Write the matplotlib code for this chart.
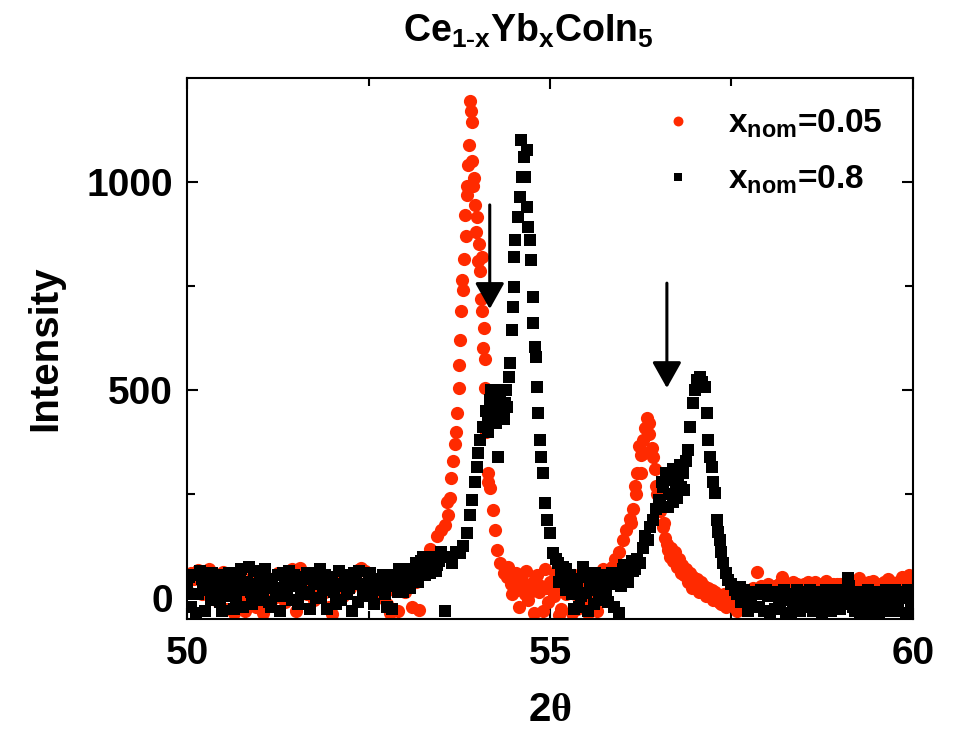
#!/usr/bin/env python
#
#  XRD patterns of Ce(1-x)Yb(x)CoIn5 around the (00l)/(h0l) peaks.
#

import matplotlib
matplotlib.use('Agg')
import matplotlib.pyplot as plt

# x_nom = 0.05 (red circles)
red_2theta = [
    50.00, 50.05, 50.10, 50.15, 50.20, 50.25, 50.30, 50.35, 50.40, 50.45,
    50.50, 50.55, 50.60, 50.65, 50.70, 50.75, 50.80, 50.85, 50.90, 50.95,
    51.00, 51.05, 51.10, 51.15, 51.20, 51.25, 51.30, 51.35, 51.40, 51.45,
    51.50, 51.55, 51.60, 51.65, 51.70, 51.75, 51.80, 51.85, 51.90, 51.95,
    52.00, 52.05, 52.10, 52.15, 52.20, 52.25, 52.30, 52.35, 52.40, 52.45,
    52.50, 52.55, 52.60, 52.65, 52.70, 52.75, 52.80, 52.85, 52.90, 52.95,
    53.00, 53.05, 53.10, 53.15, 53.20, 53.25, 53.30, 53.35, 53.40, 53.45,
    53.50, 53.55, 53.58, 53.62, 53.66, 53.69, 53.72, 53.74, 53.76, 53.78,
    53.79, 53.81, 53.83, 53.85, 53.86, 53.88, 53.90, 53.92, 53.93, 53.95,
    53.97, 53.99, 54.02, 54.04, 54.06, 54.07, 54.09, 54.10, 54.11, 54.14,
    54.17, 54.21, 54.24, 54.27, 54.31, 54.36, 54.41, 54.46, 54.50, 54.55,
    54.60, 54.65, 54.70, 54.75, 54.80, 54.85, 54.90, 54.95, 55.00, 55.05,
    55.10, 55.15, 55.20, 55.25, 55.30, 55.35, 55.40, 55.45, 55.50, 55.55,
    55.60, 55.65, 55.70, 55.75, 55.80, 55.85, 55.90, 55.95, 56.00, 56.05,
    56.10, 56.14, 56.17, 56.20, 56.22, 56.25, 56.28, 56.31, 56.34, 56.37,
    56.40, 56.44, 56.48, 56.52, 56.55, 56.59, 56.63, 56.67, 56.70, 56.75,
    56.80, 56.85, 56.90, 56.95, 57.00, 57.05, 57.10, 57.15, 57.20, 57.25,
    57.30, 57.35, 57.40, 57.45, 57.50, 57.55, 57.60, 57.65, 57.70, 57.75,
    57.80, 57.85, 57.90, 57.95, 58.00, 58.05, 58.10, 58.15, 58.20, 58.25,
    58.30, 58.35, 58.40, 58.45, 58.50, 58.55, 58.60, 58.65, 58.70, 58.75,
    58.80, 58.85, 58.90, 58.95, 59.00, 59.05, 59.10, 59.15, 59.20, 59.25,
    59.30, 59.35, 59.40, 59.45, 59.50, 59.55, 59.60, 59.65, 59.70, 59.75,
    59.80, 59.85, 59.90, 59.95, 60.00,
]
red_counts = [
    20, 60, 45, 68, 10, 55, 70, 30, -5, 40,
    62, -25, 15, -35, 35, 5, -30, 25, 50, -20,
    10, -35, 30, 45, 0, 60, 20, -10, 40, 70,
    -30, 72, 25, 10, 45, -5, 30, 55, 15, -20,
    -38, 20, 40, 5, 50, 25, 60, 68, 72, 66,
    58, 30, 10, 45, 0, -15, -35, 20, -30, 35,
    15, 50, -20, 40, -28, 75, 95, 118, 110, 150,
    165, 175, 230, 240, 330, 370, 445, 505, 620, 690,
    765, 815, 920, 970, 990, 1090, 1195, 1145, 1050, 1010,
    945, 915, 850, 785, 820, 690, 650, 575, 505, 300,
    265, 212, 165, 115, 85, 60, 50, 35, 45, 20,
    55, 10, -5, 30, 45, 15, -30, 25, 40, 5,
    30, -25, 20, 50, -35, 10, 35, -20, 15, 0,
    30, -30, 20, 45, 55, 75, 95, 110, 140, 165,
    190, 215, 270, 300, 365, 345, 380, 410, 433, 395,
    360, 310, 250, 210, 170, 145, 115, 120, 90, 75,
    60, 55, 40, 25, 35, 15, 20, 5, 10, -5,
    0, -15, 10, -10, 5, -20, 0, 15, 20, 10,
    25, 62, 30, 28, 35, 25, 30, 35, 50, 30,
    28, 38, 33, 30, 35, 40, 32, 38, 30, 35,
    42, 30, 35, 33, 35, 30, 28, 32, 40, 48,
    35, 30, 38, 42, 35, 30, 38, 45, 40, 35,
    40, 50, 45, 55, 40,
]
# extra red points: peak clusters and the noisy stretches between the peaks
red_fill_2theta = [
    53.60, 53.64, 53.70, 53.75, 53.80, 53.84, 53.87, 53.91, 53.94, 53.98,
    54.01, 54.05, 54.08, 54.12, 54.15,
    54.425, 54.475, 54.525, 54.575, 54.625, 54.675, 54.725, 54.775, 54.825,
    54.875, 54.925, 54.975, 55.025, 55.075, 55.125, 55.175, 55.225, 55.275,
    55.325, 55.375, 55.425, 55.475, 55.525, 55.575, 55.625, 55.675, 55.725,
    56.12, 56.19, 56.26, 56.30, 56.36, 56.42, 56.46, 56.50, 56.57, 56.61,
    56.65,
    56.725, 56.775, 56.825, 56.875, 56.925, 56.975, 57.025, 57.075, 57.125,
    57.175, 57.225, 57.275, 57.325, 57.375, 57.425, 57.475, 57.525, 57.575,
    57.625,
]
red_fill_counts = [
    200, 290, 400, 560, 740, 870, 1040, 1170, 990, 880,
    810, 720, 600, 400, 280,
    75, 10, 60, -20, 40, 65, 15, -35, 55,
    30, 70, -10, 20, 60, -40, 45, 10, 30,
    55, -25, 20, 40, -35, 25, 50, 10, 70,
    180, 250, 300, 350, 420, 340, 270, 230, 180, 130,
    100,
    110, 95, 80, 70, 60, 50, 45, 40, 30,
    25, 20, 15, -10, 5, -20, -15, 0, -30,
    5,
]

# x_nom = 0.8 (black squares)
black_2theta = [
    50.00, 50.05, 50.10, 50.15, 50.20, 50.25, 50.30, 50.35, 50.40, 50.45,
    50.50, 50.55, 50.60, 50.65, 50.70, 50.75, 50.80, 50.85, 50.90, 50.95,
    51.00, 51.05, 51.10, 51.15, 51.20, 51.25, 51.30, 51.35, 51.40, 51.45,
    51.50, 51.55, 51.60, 51.65, 51.70, 51.75, 51.80, 51.85, 51.90, 51.95,
    52.00, 52.05, 52.10, 52.15, 52.20, 52.25, 52.30, 52.35, 52.40, 52.45,
    52.50, 52.55, 52.60, 52.65, 52.70, 52.75, 52.80, 52.85, 52.90, 52.95,
    53.00, 53.05, 53.10, 53.15, 53.20, 53.25, 53.30, 53.35, 53.40, 53.45,
    53.50, 53.55, 53.60, 53.65, 53.70, 53.76, 53.80, 53.86, 53.90, 53.93,
    53.96, 53.99, 54.01, 54.04, 54.08, 54.12, 54.15, 54.17, 54.20, 54.23,
    54.26, 54.28, 54.31, 54.35, 54.38, 54.41, 54.43, 54.45, 54.47, 54.49,
    54.50, 54.51, 54.52, 54.56, 54.58, 54.60, 54.62, 54.64, 54.66, 54.68,
    54.69, 54.70, 54.72, 54.74, 54.76, 54.77, 54.79, 54.81, 54.82, 54.84,
    54.86, 54.88, 54.90, 54.93, 54.96, 55.00, 55.04, 55.08, 55.11, 55.15,
    55.18, 55.22, 55.26, 55.30, 55.35, 55.40, 55.45, 55.50, 55.55, 55.60,
    55.65, 55.70, 55.75, 55.80, 55.85, 55.90, 55.95, 56.00, 56.05, 56.10,
    56.15, 56.20, 56.24, 56.28, 56.31, 56.35, 56.38, 56.42, 56.46, 56.50,
    56.52, 56.56, 56.60, 56.64, 56.67, 56.70, 56.73, 56.77, 56.80, 56.83,
    56.87, 56.90, 56.93, 56.97, 57.00, 57.02, 57.05, 57.07, 57.10, 57.13,
    57.16, 57.18, 57.21, 57.23, 57.25, 57.27, 57.30, 57.32, 57.34, 57.36,
    57.38, 57.42, 57.45, 57.50, 57.55, 57.62, 57.70, 57.75, 57.80, 57.85,
    57.90, 57.95, 58.00, 58.05, 58.10, 58.15, 58.20, 58.25, 58.30, 58.35,
    58.40, 58.45, 58.50, 58.55, 58.60, 58.65, 58.70, 58.75, 58.80, 58.85,
    58.90, 58.95, 59.00, 59.05, 59.10, 59.15, 59.20, 59.25, 59.30, 59.35,
    59.40, 59.45, 59.50, 59.55, 59.60, 59.65, 59.70, 59.75, 59.80, 59.85,
    59.90, 59.95, 60.00,
]
black_counts = [
    30, -20, 55, 10, 45, -30, 25, 60, 15, -10,
    40, 5, 50, -25, 30, 70, 20, 75, -15, 35,
    60, 10, 45, -20, 25, 55, 5, 40, 65, -5,
    30, 50, 15, 60, -25, 35, 45, 0, 55, 20,
    40, -15, 65, 30, 10, 50, 60, -10, 35, 20,
    45, 5, 40, 25, 55, -20, 30, 50, 15, 60,
    35, 70, 45, 85, 55, 100, 75, 60, 95, 80,
    110, -30, 100, 85, 110, 108, 125, 156, 200, 236,
    280, 315, 349, 380, 411, 450, 400, 476, 430, 490,
    460, 339, 483, 500, 470, 459, 531, 565, 644, 700,
    748, 820, 861, 916, 964, 1101, 1012, 1060, 1012, 1077,
    940, 892, 861, 813, 724, 661, 603, 579, 507, 445,
    380, 340, 300, 228, 188, 156, 108, 95, 84, 65,
    50, 70, 35, 10, 45, -20, 75, 12, 40, -15,
    30, 55, 20, -10, 60, 36, -36, 70, 50, 75,
    65, 95, 84, 120, 150, 139, 170, 188, 215, 236,
    236, 267, 300, 250, 284, 230, 267, 290, 267, 300,
    330, 356, 411, 469, 500, 524, 515, 531, 520, 507,
    445, 380, 340, 315, 280, 252, 188, 160, 139, 110,
    84, 60, 43, 35, 20, 26, 5, 15, -20, 10,
    19, -30, 5, 15, -25, 0, 2, -35, 10, -15,
    20, -30, 5, 15, -20, 0, 10, -35, 20, -10,
    5, 15, -25, 20, 48, 5, -30, 10, -15, 15,
    -35, 0, 10, -20, 15, -30, 5, 20, -15, 10,
    -35, 0, 15,
]
# extra black points: background band and the two shoulder blobs
black_fill_2theta = [
    50.025, 50.075, 50.125, 50.175, 50.225, 50.275, 50.325, 50.375, 50.425, 50.475,
    50.525, 50.575, 50.625, 50.675, 50.725, 50.775, 50.825, 50.875, 50.925, 50.975,
    51.025, 51.075, 51.125, 51.175, 51.225, 51.275, 51.325, 51.375, 51.425, 51.475,
    51.525, 51.575, 51.625, 51.675, 51.725, 51.775, 51.825, 51.875, 51.925, 51.975,
    52.025, 52.075, 52.125, 52.175, 52.225, 52.275, 52.325, 52.375, 52.425, 52.475,
    52.525, 52.575, 52.625, 52.675, 52.725, 52.775, 52.825, 52.875, 52.925, 52.975,
    53.025, 53.075, 53.125, 53.175, 53.225, 53.275, 53.325, 53.375, 53.425, 53.475,
    54.14, 54.19, 54.22, 54.25, 54.30, 54.33, 54.37, 54.40,
    55.125, 55.175, 55.225, 55.275, 55.325, 55.375, 55.425, 55.475, 55.525, 55.575,
    55.625, 55.675, 55.725, 55.775, 55.825, 55.875, 55.925, 55.975, 56.025, 56.075,
    56.125, 56.175,
    56.54, 56.62, 56.69, 56.75, 56.79, 56.85,
    57.575, 57.625, 57.675, 57.725, 57.775, 57.825, 57.875, 57.925, 57.975, 58.025,
    58.075, 58.125, 58.175, 58.225, 58.275, 58.325, 58.375, 58.425, 58.475, 58.525,
    58.575, 58.625, 58.675, 58.725, 58.775, 58.825, 58.875, 58.925, 58.975, 59.025,
    59.075, 59.125, 59.175, 59.225, 59.275, 59.325, 59.375, 59.425, 59.475, 59.525,
    59.575, 59.625, 59.675, 59.725, 59.775, 59.825, 59.875, 59.925, 59.975,
]
black_fill_counts = [
    50, 10, -35, 65, 20, 40, -5, 30, 55, -30,
    20, 60, 35, 0, 50, -20, 40, 15, 65, -5,
    30, 70, -10, 40, 15, -30, 60, 20, 35, 55,
    -15, 25, 45, 10, 60, 0, 70, 30, -25, 50,
    15, 35, -5, 55, 25, -30, 40, 65, 5, 30,
    60, -15, 20, 45, 10, 55, -25, 35, 70, 15,
    50, 25, 65, 40, 90, 55, 80, 100, 65, 90,
    420, 500, 450, 420, 440, 470, 430, 500,
    40, 75, 20, 55, -25, 30, 5, 50, -30, 20,
    60, -5, 40, 10, 35, -20, 55, 30, 80, 40,
    90, 70,
    280, 220, 310, 240, 320, 260,
    10, -10, 20, -30, 5, 15, -20, 10, 20, -35,
    5, 15, -20, 20, -5, -35, 10, 15, -20, 0,
    20, -30, 15, -10, 5, 20, -30, 0, 20, -15,
    10, 30, -20, 15, -35, 5, 20, -10, 15, -35,
    5, 20, -15, 10, -30, 15, 0, 20, -20,
]

labels = [r'x$_{nom}$=0.05', r'x$_{nom}$=0.8']

# shoulder arrows: 2theta position, tail and tip intensity
arrow_2theta = [54.17, 56.61]
arrow_tail = [945, 757]
arrow_tip = [695, 505]

plt.rcParams['font.family'] = ['Liberation Sans', 'DejaVu Sans']
plt.rcParams['font.weight'] = 'bold'
plt.rcParams['mathtext.fontset'] = 'custom'
plt.rcParams['mathtext.bf'] = 'Liberation Sans:bold'
plt.rcParams['mathtext.rm'] = 'Liberation Serif'
plt.rcParams['mathtext.default'] = 'bf'

fig = plt.figure(figsize=(9.65, 7.37), dpi=100)
ax = fig.add_axes([0.1938, 0.1601, 0.7523, 0.7341])

ax.plot(red_2theta + red_fill_2theta, red_counts + red_fill_counts, 'o',
        ls='none', color='#ff2a00', ms=9.5, mew=0, label=labels[0])
ax.plot(black_2theta + black_fill_2theta, black_counts + black_fill_counts, 's',
        ls='none', color='black', ms=8, mew=0, label=labels[1])

for xa, y0, y1 in zip(arrow_2theta, arrow_tail, arrow_tip):
    ax.annotate('', xy=(xa, y1), xytext=(xa, y0),
                arrowprops=dict(arrowstyle='-|>,head_length=0.8,head_width=0.45',
                                mutation_scale=20, lw=2.2, color='black',
                                shrinkA=0, shrinkB=0))

ax.set_xlim(50, 60)
ax.set_ylim(-50, 1250)
ax.set_xticks([50, 55, 60])
ax.set_xticks([52.5, 57.5], minor=True)
ax.set_yticks([0, 500, 1000])
ax.set_yticks([250, 750], minor=True)
ax.tick_params(which='both', direction='in', top=True, right=True, width=1.5)
ax.tick_params(which='major', length=8, labelsize=28)
ax.tick_params(which='minor', length=5.5)
ax.tick_params(axis='x', pad=12)
ax.tick_params(axis='y', pad=10)
for s in ax.spines.values():
    s.set_linewidth(1.5)

ax.set_xlabel(r'$\mathbf{2}\mathrm{\theta}$', fontsize=29, labelpad=14)
ax.set_ylabel('Intensity', fontsize=29, fontweight='bold', labelpad=16)
ax.set_title(r'Ce$_{1\text{-}x}$Yb$_{x}$CoIn$_{5}$', fontsize=27,
             fontweight='bold', pad=26, x=0.47)

ax.legend(loc='upper left', bbox_to_anchor=(0.617, 0.988), frameon=False,
          fontsize=24, markerscale=0.75, handlelength=1.2, handletextpad=0.9,
          labelspacing=0.7, borderpad=0.2)

fig.savefig('out.png', dpi=100)
